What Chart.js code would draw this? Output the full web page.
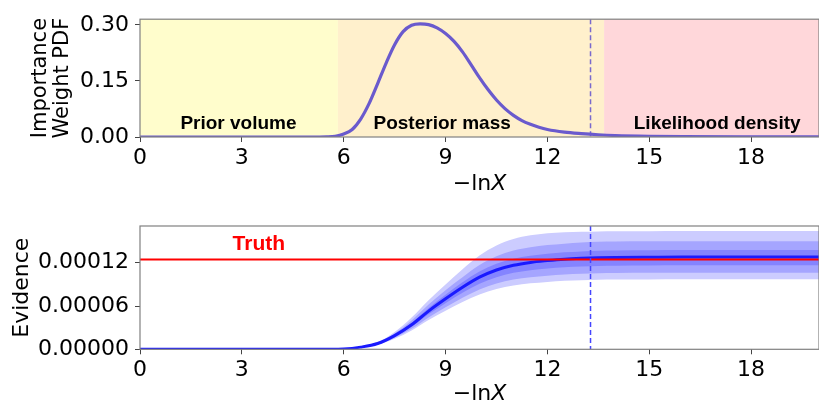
<!DOCTYPE html>
<html>
<head>
<meta charset="utf-8">
<script src="https://cdn.jsdelivr.net/npm/chart.js@4.4.0/dist/chart.umd.min.js"></script>
<style>
  html, body { margin: 0; padding: 0; background: #fff; }
  #wrap { position: relative; width: 819px; height: 403px; overflow: hidden; }
  .panel { position: absolute; left: 0; }
  #top { top: 0; }
  #bottom { top: 200px; }
</style>
</head>
<body>
<div id="wrap">
  <div class="panel" id="top"><canvas id="pdfChart" width="819" height="200"></canvas></div>
  <div class="panel" id="bottom"><canvas id="evidenceChart" width="819" height="203"></canvas></div>
</div>
<script>
// --- importance weight PDF against -ln X ---
const pdfX = [0, 2, 4, 5, 5.5, 5.75, 6, 6.25, 6.5, 6.75, 7, 7.25, 7.5, 7.75, 8, 8.25, 8.5, 8.75,
  9, 9.25, 9.5, 9.75, 10, 10.25, 10.5, 10.75, 11, 11.25, 11.5, 11.75, 12, 12.5, 13, 13.5, 14, 15, 16, 18, 20];
const pdfY = [0, 0, 0, 0, 0.0005, 0.002, 0.008, 0.020, 0.048, 0.090, 0.143, 0.198, 0.247, 0.282,
  0.299, 0.303, 0.301, 0.292, 0.277, 0.256, 0.228, 0.194, 0.159, 0.127, 0.099, 0.076, 0.058,
  0.044, 0.034, 0.026, 0.020, 0.013, 0.009, 0.006, 0.004, 0.002, 0.001, 0.0005, 0.0003];
const pdfTicks = [0, 0.15, 0.30];

const xTicks = [0, 3, 6, 9, 12, 15, 18];
const regionEdges = [0, 5.83, 13.67, 20];
const regionNames = ['Prior volume', 'Posterior mass', 'Likelihood density'];
const regionLabelX = [2.9, 8.9, 17.0];
const regionColors = ['#fffdcc', '#fff0cc', '#ffd7da'];
const cutoffX = 13.27;

// --- evidence estimate with credible bands ---
const evidenceX = [0, 5, 5.5, 6, 6.5, 7, 7.5, 8, 8.5, 9, 9.5, 10, 10.5, 11, 11.5, 12, 12.5, 13,
  13.5, 14, 15, 16, 17, 18, 19, 20];
const evidenceMedian = [0, 0, 0.01e-5, 0.05e-5, 0.3e-5, 0.8e-5, 1.9e-5, 3.4e-5, 5.3e-5, 7.0e-5,
  8.6e-5, 10.0e-5, 11.0e-5, 11.65e-5, 12.05e-5, 12.3e-5, 12.5e-5, 12.62e-5, 12.7e-5, 12.74e-5,
  12.77e-5, 12.79e-5, 12.79e-5, 12.79e-5, 12.79e-5, 12.79e-5];
const evidenceUpper3 = [0, 0, 0.01e-5, 0.06e-5, 0.37e-5, 1.0e-5, 2.4e-5, 4.4e-5, 6.8e-5, 9.0e-5,
  11.1e-5, 13.0e-5, 14.4e-5, 15.3e-5, 15.8e-5, 16.1e-5, 16.25e-5, 16.3e-5, 16.35e-5, 16.37e-5,
  16.38e-5, 16.39e-5, 16.39e-5, 16.39e-5, 16.39e-5, 16.39e-5];
const evidenceUpper2 = [0, 0, 0.01e-5, 0.06e-5, 0.34e-5, 0.92e-5, 2.2e-5, 4.0e-5, 6.2e-5, 8.2e-5,
  10.0e-5, 11.7e-5, 12.9e-5, 13.7e-5, 14.15e-5, 14.45e-5, 14.65e-5, 14.8e-5, 14.9e-5, 14.94e-5,
  14.97e-5, 15.0e-5, 15.0e-5, 15.0e-5, 15.0e-5, 15.0e-5];
const evidenceUpper1 = [0, 0, 0.01e-5, 0.05e-5, 0.32e-5, 0.86e-5, 2.05e-5, 3.68e-5, 5.73e-5, 7.57e-5,
  9.3e-5, 10.8e-5, 11.87e-5, 12.56e-5, 12.98e-5, 13.25e-5, 13.45e-5, 13.58e-5, 13.66e-5, 13.7e-5,
  13.73e-5, 13.76e-5, 13.76e-5, 13.76e-5, 13.76e-5, 13.76e-5];
const evidenceLower1 = [0, 0, 0.01e-5, 0.05e-5, 0.28e-5, 0.74e-5, 1.75e-5, 3.12e-5, 4.85e-5, 6.4e-5,
  7.85e-5, 9.1e-5, 10.0e-5, 10.6e-5, 10.97e-5, 11.2e-5, 11.37e-5, 11.48e-5, 11.56e-5, 11.6e-5,
  11.62e-5, 11.64e-5, 11.64e-5, 11.64e-5, 11.64e-5, 11.64e-5];
const evidenceLower2 = [0, 0, 0.01e-5, 0.04e-5, 0.26e-5, 0.68e-5, 1.6e-5, 2.84e-5, 4.42e-5, 5.83e-5,
  7.15e-5, 8.3e-5, 9.13e-5, 9.67e-5, 10.0e-5, 10.2e-5, 10.37e-5, 10.47e-5, 10.54e-5, 10.57e-5,
  10.6e-5, 10.61e-5, 10.61e-5, 10.61e-5, 10.61e-5, 10.61e-5];
const evidenceLower3 = [0, 0, 0.01e-5, 0.04e-5, 0.24e-5, 0.62e-5, 1.45e-5, 2.6e-5, 4.05e-5, 5.33e-5,
  6.55e-5, 7.6e-5, 8.36e-5, 8.85e-5, 9.15e-5, 9.35e-5, 9.5e-5, 9.58e-5, 9.64e-5, 9.67e-5,
  9.69e-5, 9.70e-5, 9.70e-5, 9.70e-5, 9.70e-5, 9.70e-5];
const evidenceTicks = [0, 0.00006, 0.00012];
const truthZ = 0.0001247;
const truthLabelX = 3.5;

const FONT = '"DejaVu Sans", sans-serif';
const LABEL_FONT = '"Liberation Sans", Arial, sans-serif';

const pts = (xs, ys) => xs.map((x, i) => ({ x: x, y: ys[i] }));

function xScaleOpts(height) {
  return {
    type: 'linear', min: 0, max: 20,
    afterBuildTicks: s => { s.ticks = xTicks.map(v => ({ value: v })); },
    afterFit: s => { s.height = height; },
    ticks: { color: '#000', font: { family: FONT, size: 22 }, padding: 3, maxRotation: 0, autoSkip: false },
    grid: { drawOnChartArea: false, tickLength: 5, color: '#444', lineWidth: 1 },
    border: { display: false }
  };
}

function yScaleOpts(min, max, ticks, digits) {
  return {
    type: 'linear', min: min, max: max,
    afterBuildTicks: s => { s.ticks = ticks.map(v => ({ value: v })); },
    afterFit: s => { s.width = 140; },
    ticks: { color: '#000', font: { family: FONT, size: 22 }, padding: 6, callback: v => v.toFixed(digits) },
    grid: { drawOnChartArea: false, tickLength: 5, color: '#444', lineWidth: 1 },
    border: { display: false }
  };
}

function drawFrame(chart) {
  const { ctx, chartArea: a } = chart;
  ctx.save();
  ctx.strokeStyle = '#808080';
  ctx.lineWidth = 1.2;
  ctx.strokeRect(a.left, a.top, a.right - a.left, a.bottom - a.top);
  ctx.restore();
}

function drawXTitle(chart, y) {
  const { ctx, chartArea: a } = chart;
  const cx = (a.left + a.right) / 2;
  const lead = '\u2212ln';
  ctx.save();
  ctx.fillStyle = '#000';
  ctx.textBaseline = 'middle';
  ctx.textAlign = 'left';
  ctx.font = '22px ' + FONT;
  const w1 = ctx.measureText(lead).width;
  ctx.font = 'italic 22px ' + FONT;
  const w2 = ctx.measureText('X').width;
  const x0 = cx - (w1 + w2) / 2;
  ctx.font = '22px ' + FONT;
  ctx.fillText(lead, x0, y);
  ctx.font = 'italic 22px ' + FONT;
  ctx.fillText('X', x0 + w1, y);
  ctx.restore();
}

function drawYTitle(chart, lines, xs, size) {
  const { ctx, chartArea: a } = chart;
  const cy = (a.top + a.bottom) / 2;
  ctx.save();
  ctx.fillStyle = '#000';
  ctx.textAlign = 'center';
  ctx.textBaseline = 'middle';
  ctx.font = size + 'px ' + FONT;
  lines.forEach((t, i) => {
    ctx.save();
    ctx.translate(xs[i], cy);
    ctx.rotate(-Math.PI / 2);
    ctx.fillText(t, 0, 0);
    ctx.restore();
  });
  ctx.restore();
}

function drawCutoff(chart, color) {
  const { ctx, chartArea: a, scales } = chart;
  const x = scales.x.getPixelForValue(cutoffX);
  ctx.save();
  ctx.strokeStyle = color;
  ctx.lineWidth = 1.5;
  ctx.setLineDash([5, 3]);
  ctx.beginPath();
  ctx.moveTo(x, a.top);
  ctx.lineTo(x, a.bottom);
  ctx.stroke();
  ctx.restore();
}

// shaded regions + their names behind the PDF curve
const regionPlugin = {
  id: 'regions',
  beforeDatasetsDraw(chart) {
    const { ctx, chartArea: a, scales } = chart;
    ctx.save();
    for (let i = 0; i < regionNames.length; i++) {
      const x0 = scales.x.getPixelForValue(regionEdges[i]);
      const x1 = scales.x.getPixelForValue(regionEdges[i + 1]);
      ctx.fillStyle = regionColors[i];
      ctx.fillRect(x0, a.top, x1 - x0, a.bottom - a.top);
    }
    ctx.fillStyle = '#000';
    ctx.font = 'bold 19px ' + LABEL_FONT;
    ctx.textAlign = 'center';
    ctx.textBaseline = 'middle';
    regionNames.forEach((name, i) => {
      ctx.fillText(name, scales.x.getPixelForValue(regionLabelX[i]), a.bottom - 13);
    });
    ctx.restore();
  },
  afterDatasetsDraw(chart) {
    drawCutoff(chart, 'rgba(106, 90, 205, 0.9)');
  },
  afterDraw(chart) {
    drawFrame(chart);
    drawXTitle(chart, 184);
    drawYTitle(chart, ['Importance', 'Weight PDF'], [41, 63], 21);
  }
};

new Chart(document.getElementById('pdfChart'), {
  type: 'line',
  data: {
    datasets: [{
      data: pts(pdfX, pdfY),
      borderColor: '#6a5acd',
      borderWidth: 3.2,
      pointRadius: 0,
      cubicInterpolationMode: 'monotone',
      fill: false
    }]
  },
  options: {
    responsive: false,
    animation: false,
    layout: { padding: { top: 14, left: 0, right: 0, bottom: 0 } },
    plugins: { legend: { display: false }, tooltip: { enabled: false } },
    scales: {
      x: xScaleOpts(63),
      y: yScaleOpts(0, 0.3154, pdfTicks, 2)
    }
  },
  plugins: [regionPlugin]
});

const evidencePlugin = {
  id: 'evidenceDecor',
  afterDatasetsDraw(chart) {
    const { ctx, scales } = chart;
    drawCutoff(chart, '#4545ff');
    ctx.save();
    ctx.fillStyle = '#ff0000';
    ctx.font = 'bold 21px ' + LABEL_FONT;
    ctx.textAlign = 'center';
    ctx.textBaseline = 'middle';
    ctx.fillText('Truth', scales.x.getPixelForValue(truthLabelX), scales.y.getPixelForValue(truthZ) - 15);
    ctx.restore();
  },
  afterDraw(chart) {
    drawFrame(chart);
    drawXTitle(chart, 194);
    drawYTitle(chart, ['Evidence'], [22], 22);
  }
};

const band = (ys, color, target) => ({
  data: pts(evidenceX, ys),
  borderWidth: 0,
  borderColor: 'transparent',
  backgroundColor: color,
  pointRadius: 0,
  cubicInterpolationMode: 'monotone',
  fill: target === undefined ? false : { target: target }
});

new Chart(document.getElementById('evidenceChart'), {
  type: 'line',
  data: {
    datasets: [
      { data: [{ x: 0, y: truthZ }, { x: 20, y: truthZ }], borderColor: '#ff0000', borderWidth: 2, pointRadius: 0, fill: false },
      { data: pts(evidenceX, evidenceMedian), borderColor: '#1a1aff', borderWidth: 3, pointRadius: 0, cubicInterpolationMode: 'monotone', fill: false },
      band(evidenceUpper1, '#8484ff', 3),
      band(evidenceLower1, '#8484ff'),
      band(evidenceUpper2, '#a5a5ff', 5),
      band(evidenceLower2, '#a5a5ff'),
      band(evidenceUpper3, '#ccccff', 7),
      band(evidenceLower3, '#ccccff')
    ]
  },
  options: {
    responsive: false,
    animation: false,
    layout: { padding: { top: 26, left: 0, right: 0, bottom: 0 } },
    plugins: { legend: { display: false }, tooltip: { enabled: false } },
    scales: {
      x: xScaleOpts(53.7),
      y: yScaleOpts(0, 0.000171, evidenceTicks, 5)
    }
  },
  plugins: [evidencePlugin]
});
</script>
</body>
</html>
